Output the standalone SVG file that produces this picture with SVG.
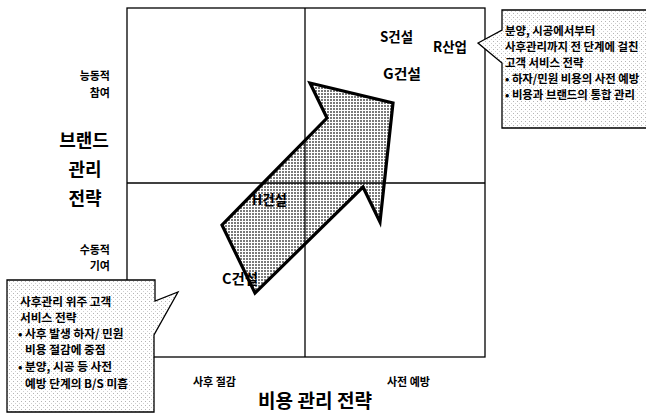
<svg xmlns="http://www.w3.org/2000/svg" width="646" height="415" viewBox="0 0 646 415">
  <defs>
    <pattern id="dots" width="3" height="3" patternUnits="userSpaceOnUse">
      <rect width="3" height="3" fill="#ffffff"/>
      <rect width="2" height="2" fill="#7a7a7a"/>
    </pattern>
    <pattern id="light" width="4" height="4" patternUnits="userSpaceOnUse">
      <rect width="4" height="4" fill="#ffffff"/>
      <rect x="1" y="1" width="1" height="1" fill="#b4b4b4"/>
      <rect x="3" y="3" width="1" height="1" fill="#d0d0d0"/>
    </pattern>
    <style>
      .ln { stroke: #000; stroke-width: 1.3; fill: none; }
      .t { font-family: "Noto Sans CJK KR", "Noto Sans", "Liberation Sans", sans-serif; fill: #000; }
      .co { font-size: 11.7px; font-weight: bold; }
      .cor { font-size: 11.4px; font-weight: bold; }
      .tick { font-size: 11px; font-weight: bold; }
      .node { font-size: 14px; font-weight: bold; }
      .big { font-size: 18px; font-weight: bold; }
      .callout { stroke: #000; stroke-width: 1.3; fill: url(#light); }
    </style>
  </defs>
  <rect width="646" height="415" fill="#ffffff"/>

  <g id="frame">
    <rect class="ln" x="127" y="8" width="358" height="349"/>
  </g>

  <g id="arrow">
    <polygon points="255,293 222,225 327,118 310,83 393,103 380,222 363,187" fill="url(#dots)" stroke="#000" stroke-width="3.2" stroke-linejoin="miter"/>
  </g>

  <g id="connectors">
    <line class="ln" x1="305" y1="8" x2="305" y2="357"/>
    <line class="ln" x1="127" y1="183" x2="485" y2="183"/>
  </g>

  <g id="callout-right">
    <path class="callout" d="M502,10 H650 V128 H502 V63 L478,43 L502,30 Z"/>
    <text class="t cor" x="505" y="35">분양, 시공에서부터</text>
    <text class="t cor" x="505" y="51">사후관리까지 전 단계에 걸친</text>
    <text class="t cor" x="505" y="67">고객 서비스 전략</text>
    <text class="t cor" x="505" y="83">• 하자/민원 비용의 사전 예방</text>
    <text class="t cor" x="505" y="99">• 비용과 브랜드의 통합 관리</text>
  </g>

  <g id="callout-left">
    <path class="callout" d="M7,280 H155 V301 L178,292 L154,335 V412 H7 Z"/>
    <text class="t co" x="20" y="306">사후관리 위주 고객</text>
    <text class="t co" x="20" y="322">서비스 전략</text>
    <text class="t co" x="18" y="338">• 사후 발생 하자/ 민원</text>
    <text class="t co" x="25" y="354">비용 절감에 중점</text>
    <text class="t co" x="18" y="371">• 분양, 시공 등 사전</text>
    <text class="t co" x="25" y="388">예방 단계의 B/S 미흡</text>
  </g>

  <g id="node-s"><text class="t node" x="380" y="42" textLength="33" lengthAdjust="spacingAndGlyphs">S건설</text></g>
  <g id="node-r"><text class="t node" x="433" y="52" textLength="34" lengthAdjust="spacingAndGlyphs">R산업</text></g>
  <g id="node-g"><text class="t node" x="383" y="79" textLength="38" lengthAdjust="spacingAndGlyphs">G건설</text></g>
  <g id="node-h"><text class="t node" x="252" y="205" textLength="35" lengthAdjust="spacingAndGlyphs">H건설</text></g>
  <g id="node-c"><text class="t node" x="222" y="284" textLength="36" lengthAdjust="spacingAndGlyphs">C건설</text></g>

  <g id="axis-y">
    <text class="t tick" x="110" y="80" text-anchor="end">능동적</text>
    <text class="t tick" x="110" y="97" text-anchor="end">참여</text>
    <text class="t big" x="84" y="147" text-anchor="middle">브랜드</text>
    <text class="t big" x="85" y="176" text-anchor="middle">관리</text>
    <text class="t big" x="85" y="205" text-anchor="middle">전략</text>
    <text class="t tick" x="110" y="254" text-anchor="end">수동적</text>
    <text class="t tick" x="110" y="270" text-anchor="end">기여</text>
  </g>

  <g id="axis-x">
    <text class="t tick" x="193" y="386">사후 절감</text>
    <text class="t tick" x="387" y="386">사전 예방</text>
    <text class="t big" x="258" y="408" textLength="114" lengthAdjust="spacingAndGlyphs" style="font-size:19px">비용 관리 전략</text>
  </g>
</svg>
